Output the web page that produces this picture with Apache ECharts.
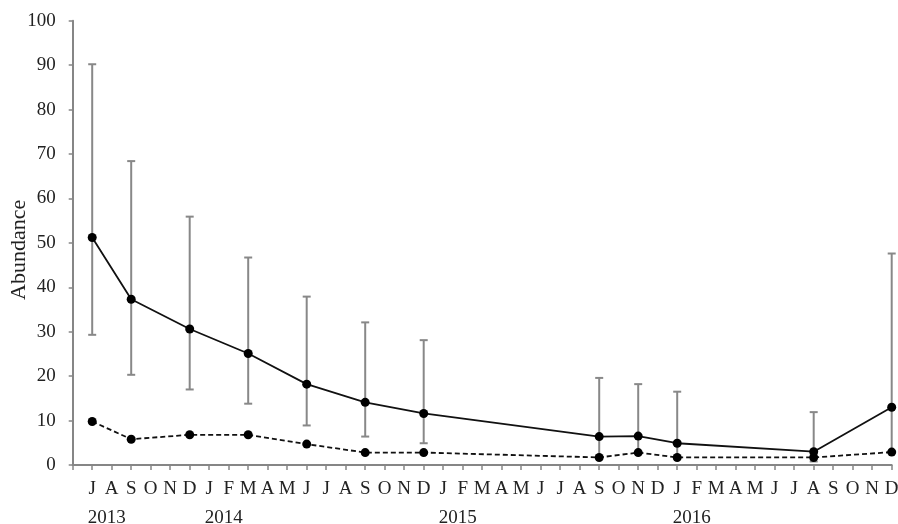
<!DOCTYPE html>
<html>
<head>
<meta charset="utf-8">
<script src="https://cdn.jsdelivr.net/npm/echarts@6/dist/echarts.min.js"></script>
<style>html,body{margin:0;padding:0;background:#fff;}#c{width:898px;height:524px;}</style>
</head>
<body>
<div id="c"></div>
<script>
// ---- data ----
const monthNames = ['Jan','Feb','Mar','Apr','May','Jun','Jul','Aug','Sep','Oct','Nov','Dec'];
const yearsShown = ['2013','2014','2015','2016'];
const firstMonthIdx = 6; // Jul 2013
const sampleDates = ['Jul 2013','Sep 2013','Dec 2013','Mar 2014','Jun 2014','Sep 2014','Dec 2014','Sep 2015','Nov 2015','Jan 2016','Aug 2016','Dec 2016'];
const solidMean  = [51.2, 37.3, 30.6, 25.1, 18.2, 14.1, 11.6, 6.4, 6.5, 4.9, 3.0, 13.0];
const solidUpper = [90.2, 68.4, 55.9, 46.7, 37.9, 32.1, 28.1, 19.6, 18.2, 16.5, 11.9, 47.6];
const solidLower = [29.3, 20.3, 17.0, 13.8, 8.9, 6.4, 4.9, 1.8, 2.8, 1.7, 0.8, 2.9];
const dashedMean = [9.8, 5.8, 6.8, 6.8, 4.7, 2.8, 2.8, 1.7, 2.8, 1.7, 1.7, 2.9];
const yTicks = {min: 0, max: 100, interval: 10};

// ---- categories (one per month, plus a leading empty slot at the y axis) ----
const categories = [''];
yearsShown.forEach((y, yi) => {
  monthNames.forEach((m, mi) => {
    if (yi === 0 && mi < firstMonthIdx) return;
    categories.push(m + ' ' + y);
  });
});

const font = 'Liberation Serif';
const solidData = sampleDates.map((d, i) => [d, solidMean[i]]);
const dashedData = sampleDates.map((d, i) => [d, dashedMean[i]]);
const errData = sampleDates.map((d, i) => [d, solidUpper[i], solidLower[i]]);

const chart = echarts.init(document.getElementById('c'), null, {renderer: 'canvas'});
chart.setOption({
  animation: false,
  backgroundColor: '#fff',
  grid: [
    {left: 72.7, right: 6.3, top: 20.7, bottom: 59, containLabel: false, outerBoundsMode: 'none'},
    {left: 68.2, right: 10.8, top: 20.7, bottom: 59, containLabel: false, outerBoundsMode: 'none'}
  ],
  xAxis: [{
    type: 'category', gridIndex: 0, data: categories, boundaryGap: false,
    axisLine: {lineStyle: {color: '#868686', width: 2}},
    axisTick: {show: true, alignWithLabel: true, length: 5, interval: 0, lineStyle: {color: '#868686', width: 1.5}},
    axisLabel: {interval: 0, margin: 15, fontFamily: font, fontSize: 19, color: '#222',
      formatter: v => v ? v[0] : ''},
    splitLine: {show: false}
  }, {
    type: 'category', gridIndex: 1, data: categories, boundaryGap: false,
    axisLine: {show: false}, axisTick: {show: false},
    axisLabel: {interval: 0, margin: 44, align: 'left', fontFamily: font, fontSize: 19, color: '#222',
      formatter: v => {
        if (!v) return '';
        const p = v.split(' ');
        return (p[0] === 'Jan' || v === categories[1]) ? p[1] : '';
      }},
    splitLine: {show: false}
  }],
  yAxis: [{
    type: 'value', gridIndex: 0, min: yTicks.min, max: yTicks.max, interval: yTicks.interval,
    name: 'Abundance', nameLocation: 'middle', nameGap: 42, nameRotate: 90, nameMoveOverlap: false,
    nameTextStyle: {fontFamily: font, fontSize: 22, color: '#222', padding: [0, 14, 0, 0]},
    axisLine: {show: true, lineStyle: {color: '#868686', width: 2}},
    axisTick: {show: true, length: 4, lineStyle: {color: '#868686', width: 1.5}},
    axisLabel: {margin: 17, fontFamily: font, fontSize: 19, color: '#222'},
    splitLine: {show: false}
  }, {
    type: 'value', gridIndex: 1, min: 0, max: 100, show: false
  }],
  series: [{
    type: 'custom', xAxisIndex: 0, yAxisIndex: 0, z: 1,
    data: errData,
    renderItem: (params, api) => {
      const top = api.coord([api.value(0), api.value(1)]);
      const bot = api.coord([api.value(0), api.value(2)]);
      const st = {stroke: '#888888', lineWidth: 2};
      const hw = 4;
      return {type: 'group', children: [
        {type: 'line', shape: {x1: top[0], y1: top[1], x2: bot[0], y2: bot[1]}, style: st},
        {type: 'line', shape: {x1: top[0]-hw, y1: top[1], x2: top[0]+hw, y2: top[1]}, style: st},
        {type: 'line', shape: {x1: bot[0]-hw, y1: bot[1], x2: bot[0]+hw, y2: bot[1]}, style: st}
      ]};
    }
  }, {
    type: 'line', xAxisIndex: 0, yAxisIndex: 0, z: 3, data: solidData,
    symbol: 'circle', symbolSize: 9, connectNulls: true,
    lineStyle: {color: '#111', width: 1.8},
    itemStyle: {color: '#000'}
  }, {
    type: 'line', xAxisIndex: 0, yAxisIndex: 0, z: 3, data: dashedData,
    symbol: 'circle', symbolSize: 9, connectNulls: true,
    lineStyle: {color: '#111', width: 1.8, type: [5, 3]},
    itemStyle: {color: '#000'}
  }]
});
</script>
</body>
</html>
